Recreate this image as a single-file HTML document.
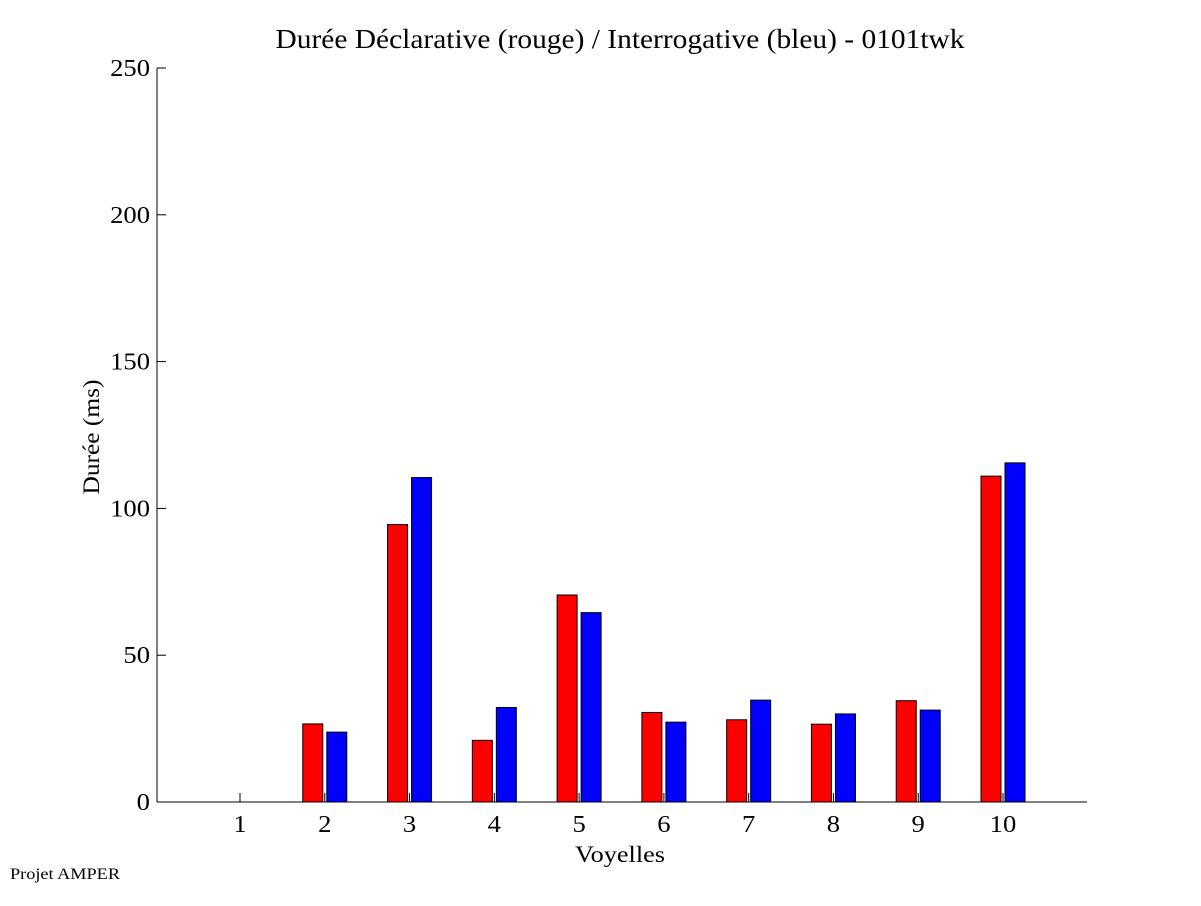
<!DOCTYPE html>
<html><head><meta charset="utf-8"><style>
body{margin:0;background:#fff;}
svg text{font-family:"Liberation Serif",serif;fill:#000;}
</style></head><body>
<svg id="chart" width="1201" height="901" xmlns="http://www.w3.org/2000/svg">
<text x="620" y="48" font-size="27" text-anchor="middle" textLength="689" lengthAdjust="spacingAndGlyphs">Durée Déclarative (rouge) / Interrogative (bleu) - 0101twk</text>
<text transform="translate(99,437) rotate(-90)" font-size="23" text-anchor="middle" textLength="115" lengthAdjust="spacingAndGlyphs">Durée (ms)</text>
<text x="620" y="862" font-size="23" text-anchor="middle" textLength="90" lengthAdjust="spacingAndGlyphs">Voyelles</text>
<text x="10" y="879" font-size="16" textLength="110" lengthAdjust="spacingAndGlyphs">Projet AMPER</text>
<g id="axes"></g>
<g id="bars"></g>
</svg>
<script>
const categories=["1","2","3","4","5","6","7","8","9","10"];
const declarative=[0,26.6,94.5,21,70.5,30.5,28,26.5,34.5,111];
const interrogative=[0,23.8,110.5,32.2,64.5,27.2,34.7,30,31.3,115.5];
const yTicks=[0,50,100,150,200,250];
const NS="http://www.w3.org/2000/svg";
const x0=157,x1=1087,y0=802,y1=68;
function yScale(v){return y0-(v/250)*(y0-y1);}
function xScale(i){return 240+i*(1003-240)/9;}
function mk(t,a,p){const e=document.createElementNS(NS,t);for(const k in a)e.setAttribute(k,a[k]);p.appendChild(e);return e;}
const ax=document.getElementById('axes'),bg=document.getElementById('bars');
const xl=mk('line',{x1:x0,y1:y0,x2:x1,y2:y0,stroke:'#000'},ax);


const yl=mk('line',{x1:x0,y1:y0,x2:x0,y2:y1,stroke:'#000'},ax);


yTicks.forEach(v=>{const y=yScale(v);
mk('line',{x1:x0,y1:y,x2:x0+9,y2:y,stroke:'#000'},ax);
const s=String(v);
const t=mk('text',{x:x0-7,y:y+8,'font-size':24,'text-anchor':'end',textLength:13.3*s.length,lengthAdjust:'spacingAndGlyphs'},ax);t.textContent=s;

});
categories.forEach((c,i)=>{const x=xScale(i);
mk('line',{x1:x,y1:y0,x2:x,y2:y0-9,stroke:'#000'},ax);
const t=mk('text',{x:x,y:y0+30,'font-size':24,'text-anchor':'middle',textLength:13.3*c.length,lengthAdjust:'spacingAndGlyphs'},ax);t.textContent=c;


const r=mk('rect',{x:x-22,y:yScale(declarative[i]),width:20,height:y0-yScale(declarative[i]),fill:'#f00',stroke:'#000','stroke-width':1},bg);


const b=mk('rect',{x:x+2,y:yScale(interrogative[i]),width:20,height:y0-yScale(interrogative[i]),fill:'#00f',stroke:'#000','stroke-width':1},bg);


});
</script>
</body></html>
